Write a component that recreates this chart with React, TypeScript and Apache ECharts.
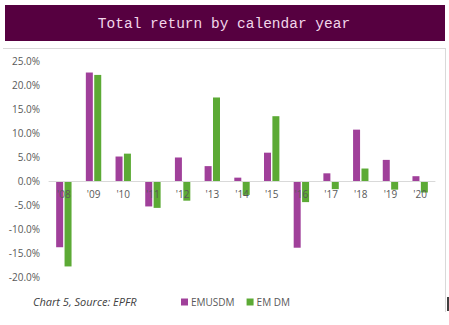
import React, { useEffect, useRef } from "react";
import * as echarts from "echarts";

const categories = ["'08", "'09", "'10", "'11", "'12", "'13", "'14", "'15", "'16", "'17", "'18", "'19", "'20"];
const emusdm = [-13.8, 22.6, 5.1, -5.3, 4.9, 3.1, 0.7, 5.9, -13.9, 1.6, 10.7, 4.4, 1.0];
const emdm = [-17.8, 22.1, 5.7, -5.6, -4.1, 17.4, -2.9, 13.5, -4.4, -1.7, 2.6, -1.8, -2.4];
const seriesNames = ["EMUSDM", "EM DM"];
const titleText = "Total return by calendar year";
const captionText = "Chart 5, Source: EPFR";

export default function App() {
  const ref = useRef<HTMLDivElement>(null);
  useEffect(() => {
    if (!ref.current) return;
    const chart = echarts.init(ref.current, null, { renderer: "svg" });
    const font = "'Open Sans', 'Noto Sans', sans-serif";
    chart.setOption({
      animation: false,
      backgroundColor: "#ffffff",
      graphic: [
        { type: "rect", shape: { x: 5, y: 5, width: 440, height: 36 }, style: { fill: "#560040" } },
        {
          type: "text", x: 224, y: 24,
          style: { text: titleText, fill: "#f2d6ea", font: "14.5px 'Liberation Mono', 'DejaVu Sans Mono', monospace", textAlign: "center", textVerticalAlign: "middle" },
        },
        { type: "line", shape: { x1: 3, y1: 48.5, x2: 445, y2: 48.5 }, style: { stroke: "#d9d9d9", lineWidth: 1 } },
        { type: "line", shape: { x1: 445.5, y1: 48, x2: 445.5, y2: 312 }, style: { stroke: "#d9d9d9", lineWidth: 1 } },
        { type: "line", shape: { x1: 448, y1: 297, x2: 448, y2: 311 }, style: { stroke: "#000000", lineWidth: 1.5 } },
        {
          type: "text", x: 33, y: 301,
          style: { text: captionText, fill: "#404040", font: "italic 11px " + font, textVerticalAlign: "middle" },
        },
      ],
      legend: {
        data: seriesNames,
        left: 176, top: 292,
        icon: "rect", itemWidth: 7, itemHeight: 7, itemGap: 12,
        textStyle: { color: "#595959", fontSize: 10, fontFamily: font, padding: [0, 0, 0, -2] },
      },
      grid: { left: 49, right: 14, top: 61, bottom: 48, containLabel: false },
      xAxis: {
        type: "category",
        data: categories,
        offset: -96,
        zlevel: 1,
        z: 10,
        axisLine: { onZero: false, lineStyle: { color: "#d9d9d9" } },
        axisTick: { show: false },
        axisLabel: { color: "#595959", fontSize: 10, fontFamily: font, margin: 8 },
      },
      yAxis: {
        type: "value",
        min: -20, max: 25, interval: 5,
        splitLine: { show: false },
        axisLine: { show: false },
        axisTick: { show: false },
        axisLabel: { color: "#595959", fontSize: 10, fontFamily: font, margin: 9, formatter: (v: number) => v.toFixed(1) + "%" },
      },
      series: [
        { name: seriesNames[0], type: "bar", z: 1, data: emusdm, barWidth: 7, barGap: "20%", itemStyle: { color: "#a0409a" } },
        { name: seriesNames[1], type: "bar", z: 1, data: emdm, barWidth: 7, itemStyle: { color: "#5caa35" } },
      ],
    });
    return () => chart.dispose();
  }, []);
  return <div ref={ref} style={{ position: "fixed", left: 0, top: 0, width: 449, height: 325 }} />;
}
